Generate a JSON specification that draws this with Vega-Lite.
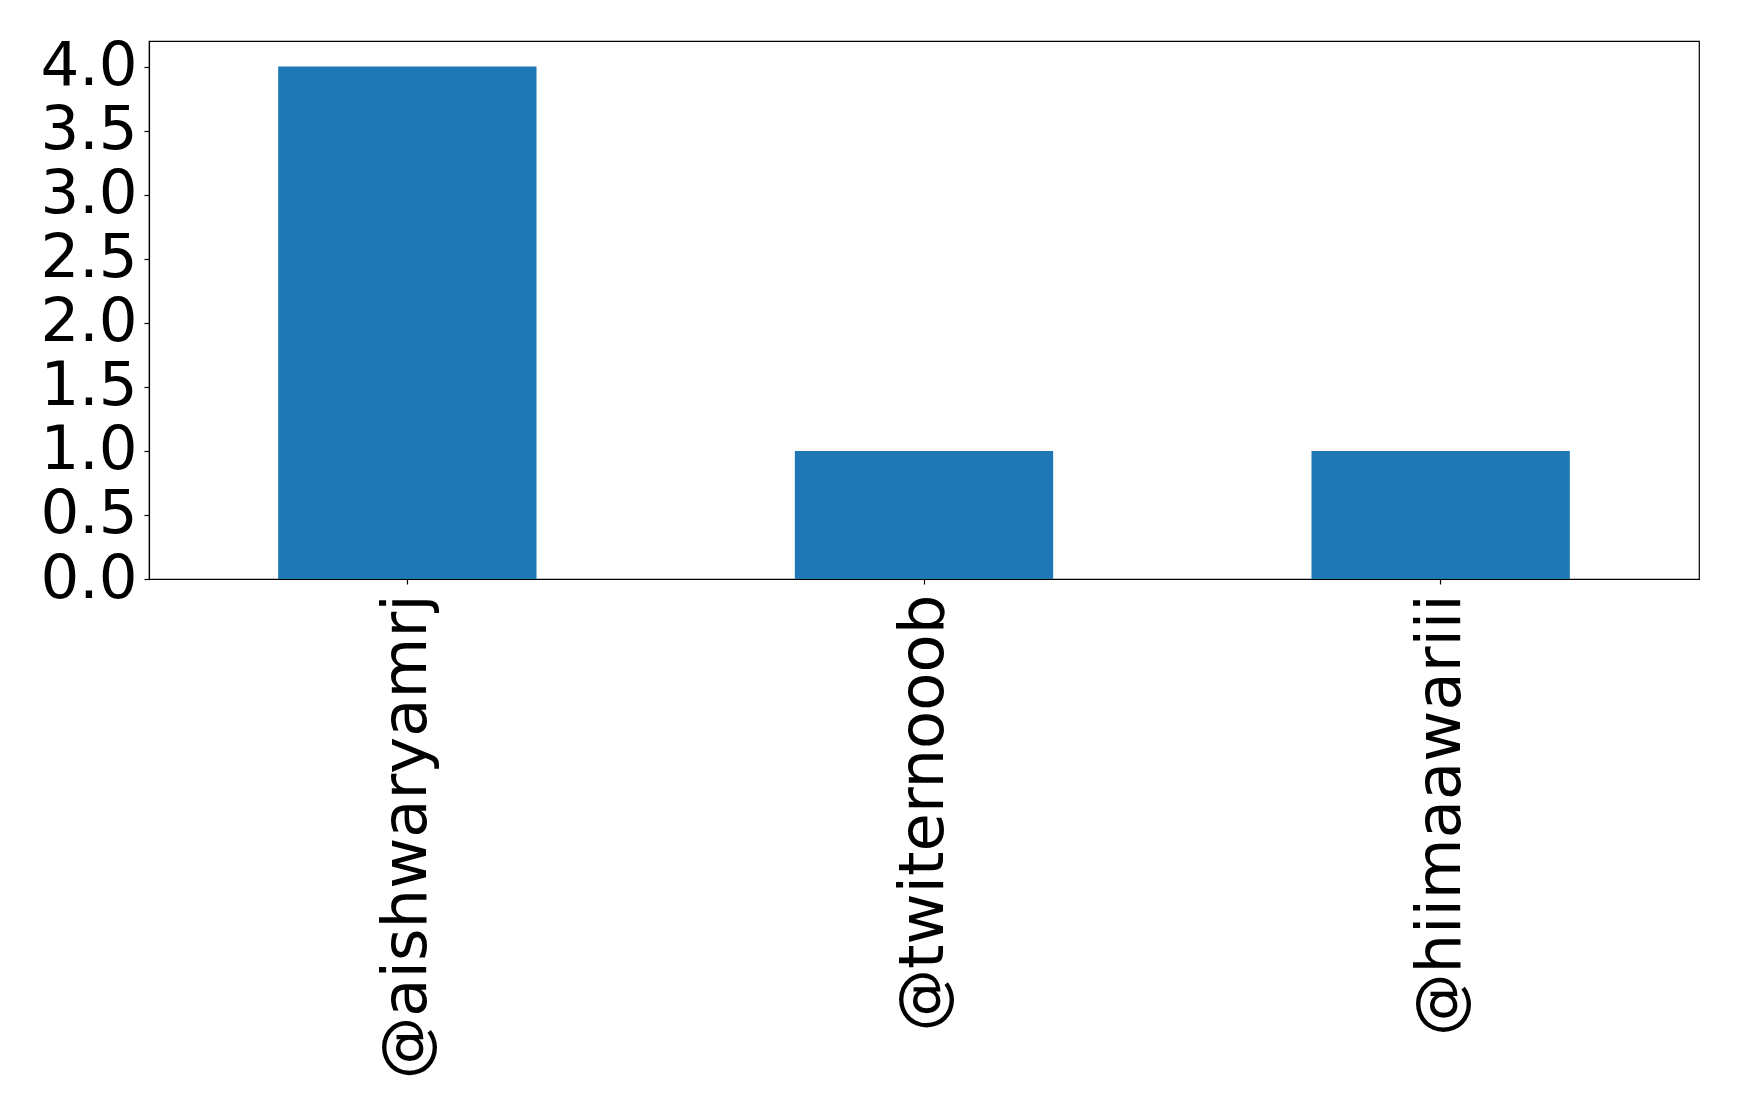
{
  "$schema": "https://vega.github.io/schema/vega-lite/v6.json",
  "width": 1550,
  "height": 538,
  "autosize": {"type": "none"},
  "padding": {"left": 149, "top": 41, "right": 40, "bottom": 534},
  "background": "white",
  "config": {
    "view": {"stroke": "black", "strokeWidth": 1.2},
    "font": "DejaVu Sans"
  },
  "data": {
    "values": [
      {"user": "@aishwaryamrj", "count": 4},
      {"user": "@twiternooob", "count": 1},
      {"user": "@hiimaawariii", "count": 1}
    ]
  },
  "mark": {"type": "bar", "color": "#1f77b4"},
  "encoding": {
    "x": {
      "field": "user",
      "type": "nominal",
      "sort": null,
      "scale": {"paddingInner": 0.5, "paddingOuter": 0.25},
      "axis": {
        "title": null,
        "labelAngle": -90,
        "labelFont": "DejaVu Sans",
        "labelFontSize": 62.5,
        "labelColor": "black",
        "labelPadding": 10,
        "tickColor": "black",
        "tickSize": 5,
        "tickWidth": 1.2,
        "domainColor": "black",
        "domainWidth": 1.2,
        "grid": false,
        "labelLimit": 0
      }
    },
    "y": {
      "field": "count",
      "type": "quantitative",
      "scale": {"domain": [0, 4.2], "nice": false},
      "axis": {
        "title": null,
        "values": [0, 0.5, 1, 1.5, 2, 2.5, 3, 3.5, 4],
        "format": ".1f",
        "labelFont": "DejaVu Sans",
        "labelFontSize": 61,
        "labelColor": "black",
        "labelPadding": 7,
        "tickColor": "black",
        "tickSize": 5,
        "tickWidth": 1.2,
        "domainColor": "black",
        "domainWidth": 1.2,
        "grid": false,
        "labelFlush": false,
        "labelOverlap": false
      }
    }
  }
}
